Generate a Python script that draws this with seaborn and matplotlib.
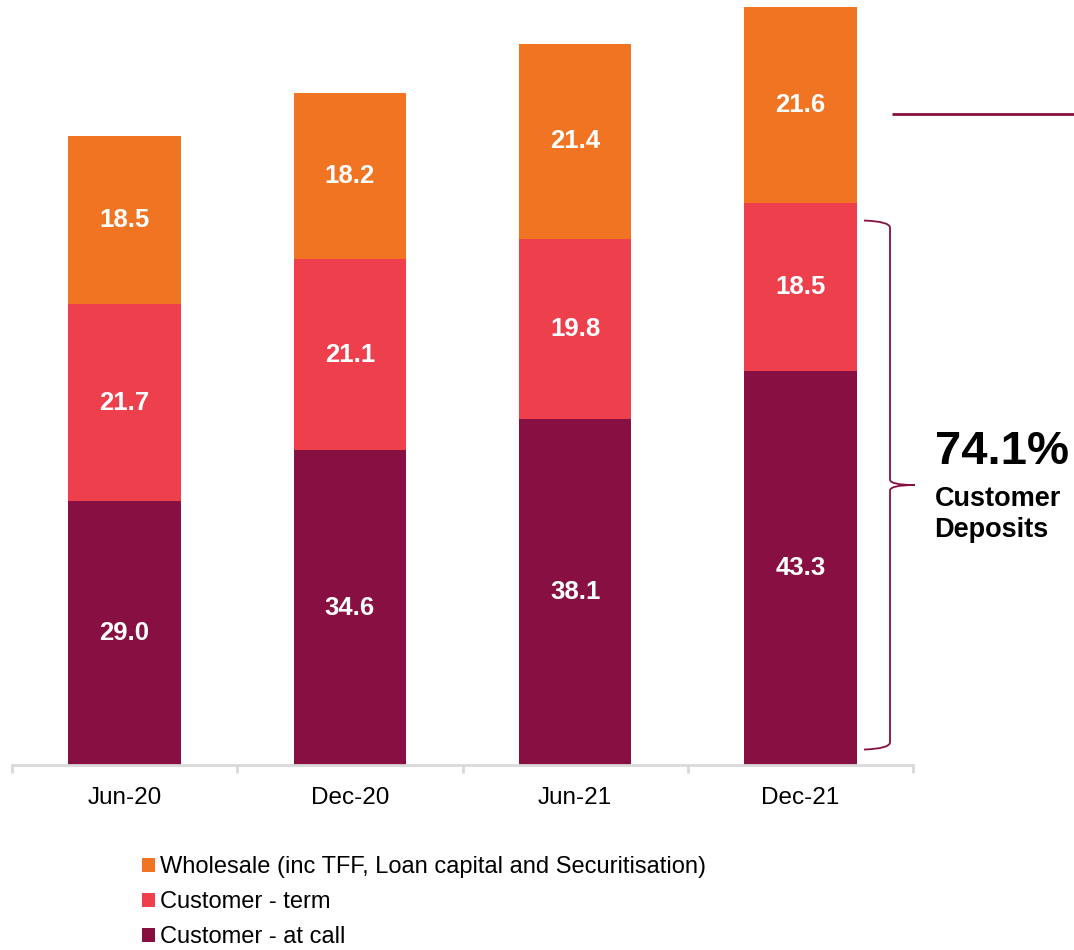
import matplotlib
matplotlib.use("Agg")
import matplotlib.pyplot as plt
import matplotlib.transforms as mtransforms
from matplotlib.path import Path
from matplotlib.patches import PathPatch, Patch
import numpy as np
import pandas as pd
import seaborn as sns

# Funding mix ($bn) by half-year
periods = ["Jun-20", "Dec-20", "Jun-21", "Dec-21"]
at_call = [29.0, 34.6, 38.1, 43.3]
term = [21.7, 21.1, 19.8, 18.5]
wholesale = [18.5, 18.2, 21.4, 21.6]

series_names = ["Customer - at call", "Customer - term",
                "Wholesale (inc TFF, Loan capital and Securitisation)"]
series_values = [at_call, term, wholesale]
series_colors = ["#870F41", "#EE404C", "#F07421"]

customer_share_label = "74.1%"
customer_share_caption = "Customer\nDeposits"

sns.set_theme(style="white")
plt.rcParams["font.family"] = ["Liberation Sans", "DejaVu Sans"]
plt.rcParams["text.color"] = "black"
plt.rcParams["xtick.color"] = "black"

fig = plt.figure(figsize=(10.74, 9.5), dpi=100)
ax = fig.add_axes([12 / 1074, 185 / 950, 901 / 1074, 765 / 950])

df = pd.DataFrame({"period": periods})
bottom = np.zeros(len(periods))
for name, vals, col in zip(series_names, series_values, series_colors):
    df["value"] = vals
    sns.barplot(data=df, x="period", y="value", order=periods, color=col,
                saturation=1, width=0.5, bottom=bottom, ax=ax,
                linewidth=0)
    for i, v in enumerate(vals):
        ax.text(i, bottom[i] + v / 2, f"{v:.1f}", ha="center", va="center",
                color="white", fontsize=18.5, fontweight="bold")
    bottom = bottom + np.array(vals)

ax.set_xlim(-0.5, len(periods) - 0.5)
ax.set_ylim(0, 84.16)
ax.set_xlabel("")
ax.set_ylabel("")
ax.set_yticks([])
for s in ["top", "right", "left"]:
    ax.spines[s].set_visible(False)
ax.spines["bottom"].set_color("#D9D9D9")
ax.spines["bottom"].set_linewidth(2)
ax.set_xticks(range(len(periods)))
ax.set_xticklabels(periods, fontsize=17.5, color="black")
ax.tick_params(axis="x", which="major", length=0, pad=16)
ax.set_xticks(np.arange(-0.5, len(periods), 1.0), minor=True)
ax.tick_params(axis="x", which="minor", length=6, width=2, color="#D9D9D9",
               direction="out", bottom=True)

# Bracket around customer deposits of the latest period
trans = mtransforms.blended_transform_factory(ax.transAxes, ax.transData)
cust_total = at_call[-1] + term[-1]
y_top, y_bot = cust_total - 1.9, 1.7
y_mid = (y_top + y_bot) / 2
xv, xc, xn = 0.9745, 0.9456, 1.002
verts = [
    (xc, y_top), (xv, y_top - 0.1), (xv, y_top - 0.8),
    (xv, y_mid + 0.6),
    (xv, y_mid), (xn, y_mid),
    (xv, y_mid), (xv, y_mid - 0.6),
    (xv, y_bot + 0.8),
    (xv, y_bot + 0.1), (xc, y_bot),
]
codes = [Path.MOVETO, Path.CURVE3, Path.CURVE3,
         Path.LINETO,
         Path.CURVE3, Path.CURVE3,
         Path.CURVE3, Path.CURVE3,
         Path.LINETO,
         Path.CURVE3, Path.CURVE3]
ax.add_patch(PathPatch(Path(verts, codes), transform=trans, fill=False,
                       edgecolor="#870F41", linewidth=1.3, clip_on=False))

# Leader line at the wholesale segment
ax.plot([0.977, 1.18], [71.6, 71.6], transform=trans, color="#870F41",
        linewidth=2, clip_on=False, solid_capstyle="butt")

ax.text(1.024, 34.4, customer_share_label, transform=trans, ha="left",
        va="center", fontsize=34, fontweight="bold", color="black")
ax.text(1.024, 27.6, customer_share_caption, transform=trans, ha="left",
        va="center", fontsize=19.5, fontweight="bold", color="black",
        linespacing=1.25)

handles = [Patch(facecolor=c, edgecolor="none")
           for c in reversed(series_colors)]
labels = list(reversed(series_names))
fig.legend(handles, labels, loc="upper left",
           bbox_to_anchor=(142 / 1074, 1 - 856 / 950), frameon=False,
           fontsize=17, handlelength=0.55, handleheight=0.55,
           handletextpad=0.2, labelspacing=0.56, borderpad=0,
           borderaxespad=0, labelcolor="black")

fig.savefig("out.png", dpi=100)
